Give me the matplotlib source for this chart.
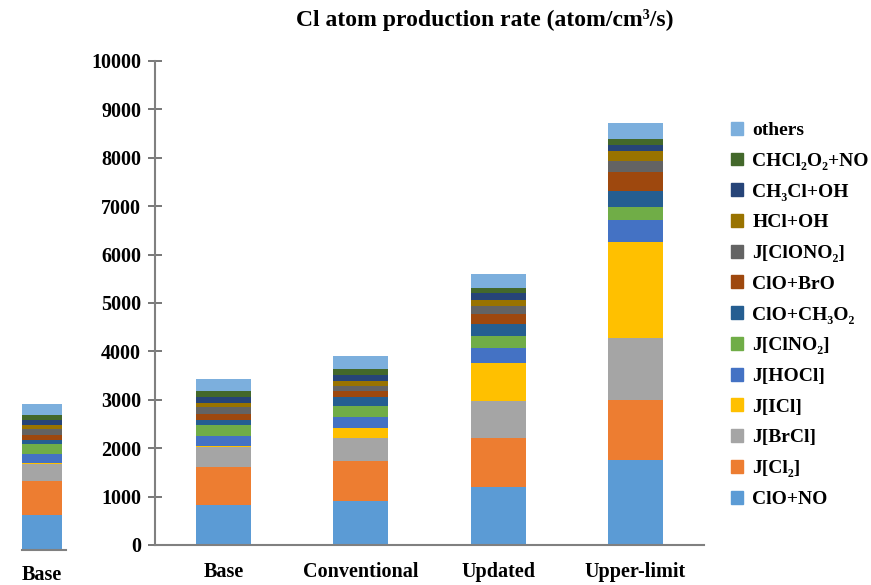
import numpy as np
import matplotlib
matplotlib.use('Agg')
from matplotlib import pyplot as plt
from matplotlib.patches import Patch

plt.rcParams['font.family'] = ['Liberation Serif', 'DejaVu Serif']
plt.rcParams['font.weight'] = 'bold'

scenarios = ['Base', 'Conventional', 'Updated', 'Upper-limit']
sources = ['ClO+NO', 'J[Cl₂]', 'J[BrCl]', 'J[ICl]', 'J[HOCl]', 'J[ClNO₂]',
           'ClO+CH₃O₂', 'ClO+BrO', 'J[ClONO₂]', 'HCl+OH', 'CH₃Cl+OH',
           'CHCl₂O₂+NO', 'others']
colors = ['#5B9BD5', '#ED7D31', '#A5A5A5', '#FFC000', '#4472C4', '#70AD47',
          '#255E91', '#9E480E', '#636363', '#997300', '#264478', '#43682B',
          '#7CAFDD']

# rates per scenario, same order as sources
base = [826, 791, 402, 30, 200, 240, 103, 124, 138, 90, 117, 117, 248]
conventional = [909, 833, 462, 207, 227, 240, 173, 131, 110, 103, 124, 111, 282]
updated = [1205, 999, 778, 772, 323, 241, 242, 206, 172, 124, 138, 116, 276]
upper_limit = [1756, 1240, 1275, 1996, 448, 262, 343, 380, 241, 206, 117, 118, 330]

data = np.array([base, conventional, updated, upper_limit]).T

fig = plt.figure(figsize=(8.71, 5.85), dpi=100)
ax = fig.add_axes([155/871, 40/585, 549/871, 484/585])

x = np.arange(len(scenarios))
bottom = np.zeros(len(scenarios))
for i, name in enumerate(sources):
    ax.bar(x, data[i], 0.4, bottom=bottom, color=colors[i], label=name)
    bottom += data[i]

ax.set_xlim(-0.5, 3.5)
ax.set_ylim(0, 10000)
ax.set_yticks(np.arange(0, 10001, 1000))
ax.set_xticks(x, scenarios)
for s in ['top', 'right']:
    ax.spines[s].set_visible(False)
for s in ['left', 'bottom']:
    ax.spines[s].set_color('#808080')
    ax.spines[s].set_linewidth(1.5)
ax.tick_params(axis='y', direction='inout', length=10, width=1.2, color='#606060',
               labelsize=14.5, pad=5)
ax.tick_params(axis='x', length=0, labelsize=14.5, pad=12)

fig.text(485/871, 1 - 20/585, 'Cl atom production rate (atom/cm³/s)',
         ha='center', va='center', fontsize=17, fontweight='bold')

handles = [Patch(color=c) for c in colors][::-1]
fig.legend(handles, sources[::-1], loc='upper left', bbox_to_anchor=(723/871, 1 - 114/585),
           frameon=False, fontsize=14, handlelength=0.65, handleheight=0.65,
           handletextpad=0.45, labelspacing=0.69, borderaxespad=0)

# cropped leftover of another panel at the left edge
ghost = fig.add_axes([22/871, 35/585, 44/871, 425/585])
gb = 0
for i in range(len(sources)):
    ghost.bar([0], [base[i]], 0.4, bottom=gb, color=colors[i])
    gb += base[i]
ghost.set_xlim(-0.2, 0.24)
ghost.set_ylim(0, 10000)
ghost.set_yticks([])
ghost.set_xticks([0], ['Base'])
ghost.tick_params(axis='x', length=0, labelsize=14.5, pad=11)
for s in ['top', 'right', 'left']:
    ghost.spines[s].set_visible(False)
ghost.spines['bottom'].set_color('#808080')
ghost.spines['bottom'].set_linewidth(1.5)
ghost.patch.set_alpha(0)

fig.savefig('out.png', dpi=100)
